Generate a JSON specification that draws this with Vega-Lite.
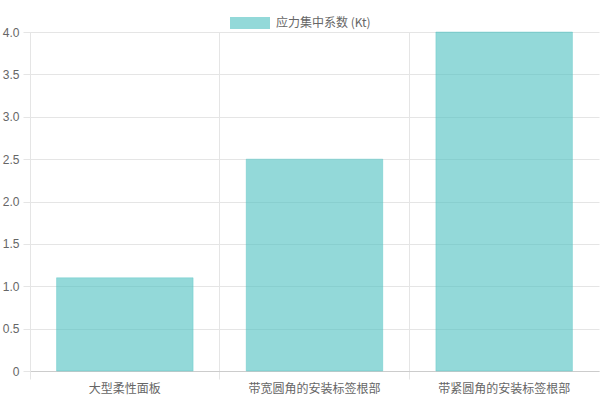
{
  "$schema": "https://vega.github.io/schema/vega-lite/v6.json",
  "width": 569,
  "height": 339,
  "autosize": {"type": "none"},
  "padding": {"left": 30, "top": 32, "right": 1, "bottom": 29},
  "background": "white",
  "data": {
    "values": [
      {"category": "大型柔性面板", "value": 1.1, "series": "应力集中系数 (Kt)"},
      {"category": "带宽圆角的安装标签根部", "value": 2.5, "series": "应力集中系数 (Kt)"},
      {"category": "带紧圆角的安装标签根部", "value": 4.0, "series": "应力集中系数 (Kt)"}
    ]
  },
  "mark": {
    "type": "bar",
    "stroke": "#4bc0c0",
    "strokeOpacity": 0.35,
    "strokeWidth": 1,
    "width": {"band": 0.72}
  },
  "encoding": {
    "x": {
      "field": "category",
      "type": "nominal",
      "sort": null,
      "scale": {"paddingInner": 0, "paddingOuter": 0},
      "axis": {
        "title": null,
        "labelAngle": 0,
        "bandPosition": 0,
        "grid": true,
        "gridColor": "#e5e5e5",
        "tickColor": "#e5e5e5",
        "tickSize": 8,
        "labelPadding": 4,
        "domainColor": "#cccccc",
        "labelFont": "Noto Sans CJK SC",
        "labelFontSize": 12,
        "labelColor": "#666666"
      }
    },
    "y": {
      "field": "value",
      "type": "quantitative",
      "scale": {"domain": [0, 4], "nice": false},
      "axis": {
        "title": null,
        "values": [0, 0.5, 1, 1.5, 2, 2.5, 3, 3.5, 4],
        "labelExpr": "datum.value == 0 ? '0' : format(datum.value, '.1f')",
        "grid": true,
        "gridColor": "#e5e5e5",
        "tickColor": "#e5e5e5",
        "tickSize": 7,
        "labelPadding": 4,
        "domainColor": "#e5e5e5",
        "labelFont": "Liberation Sans",
        "labelFontSize": 12,
        "labelColor": "#666666"
      }
    },
    "color": {
      "field": "series",
      "type": "nominal",
      "scale": {"range": ["rgba(75,192,192,0.6)"]},
      "legend": {
        "title": null,
        "orient": "none",
        "legendX": 200,
        "legendY": -29,
        "symbolType": "M-1,-0.3L1,-0.3L1,0.3L-1,0.3Z",
        "symbolSize": 1600,
        "symbolStrokeWidth": 0,
        "symbolOpacity": 1,
        "labelFont": "Noto Sans CJK SC",
        "labelFontSize": 12,
        "labelColor": "#666666",
        "labelOffset": 6
      }
    }
  },
  "config": {
    "view": {"stroke": null}
  }
}
